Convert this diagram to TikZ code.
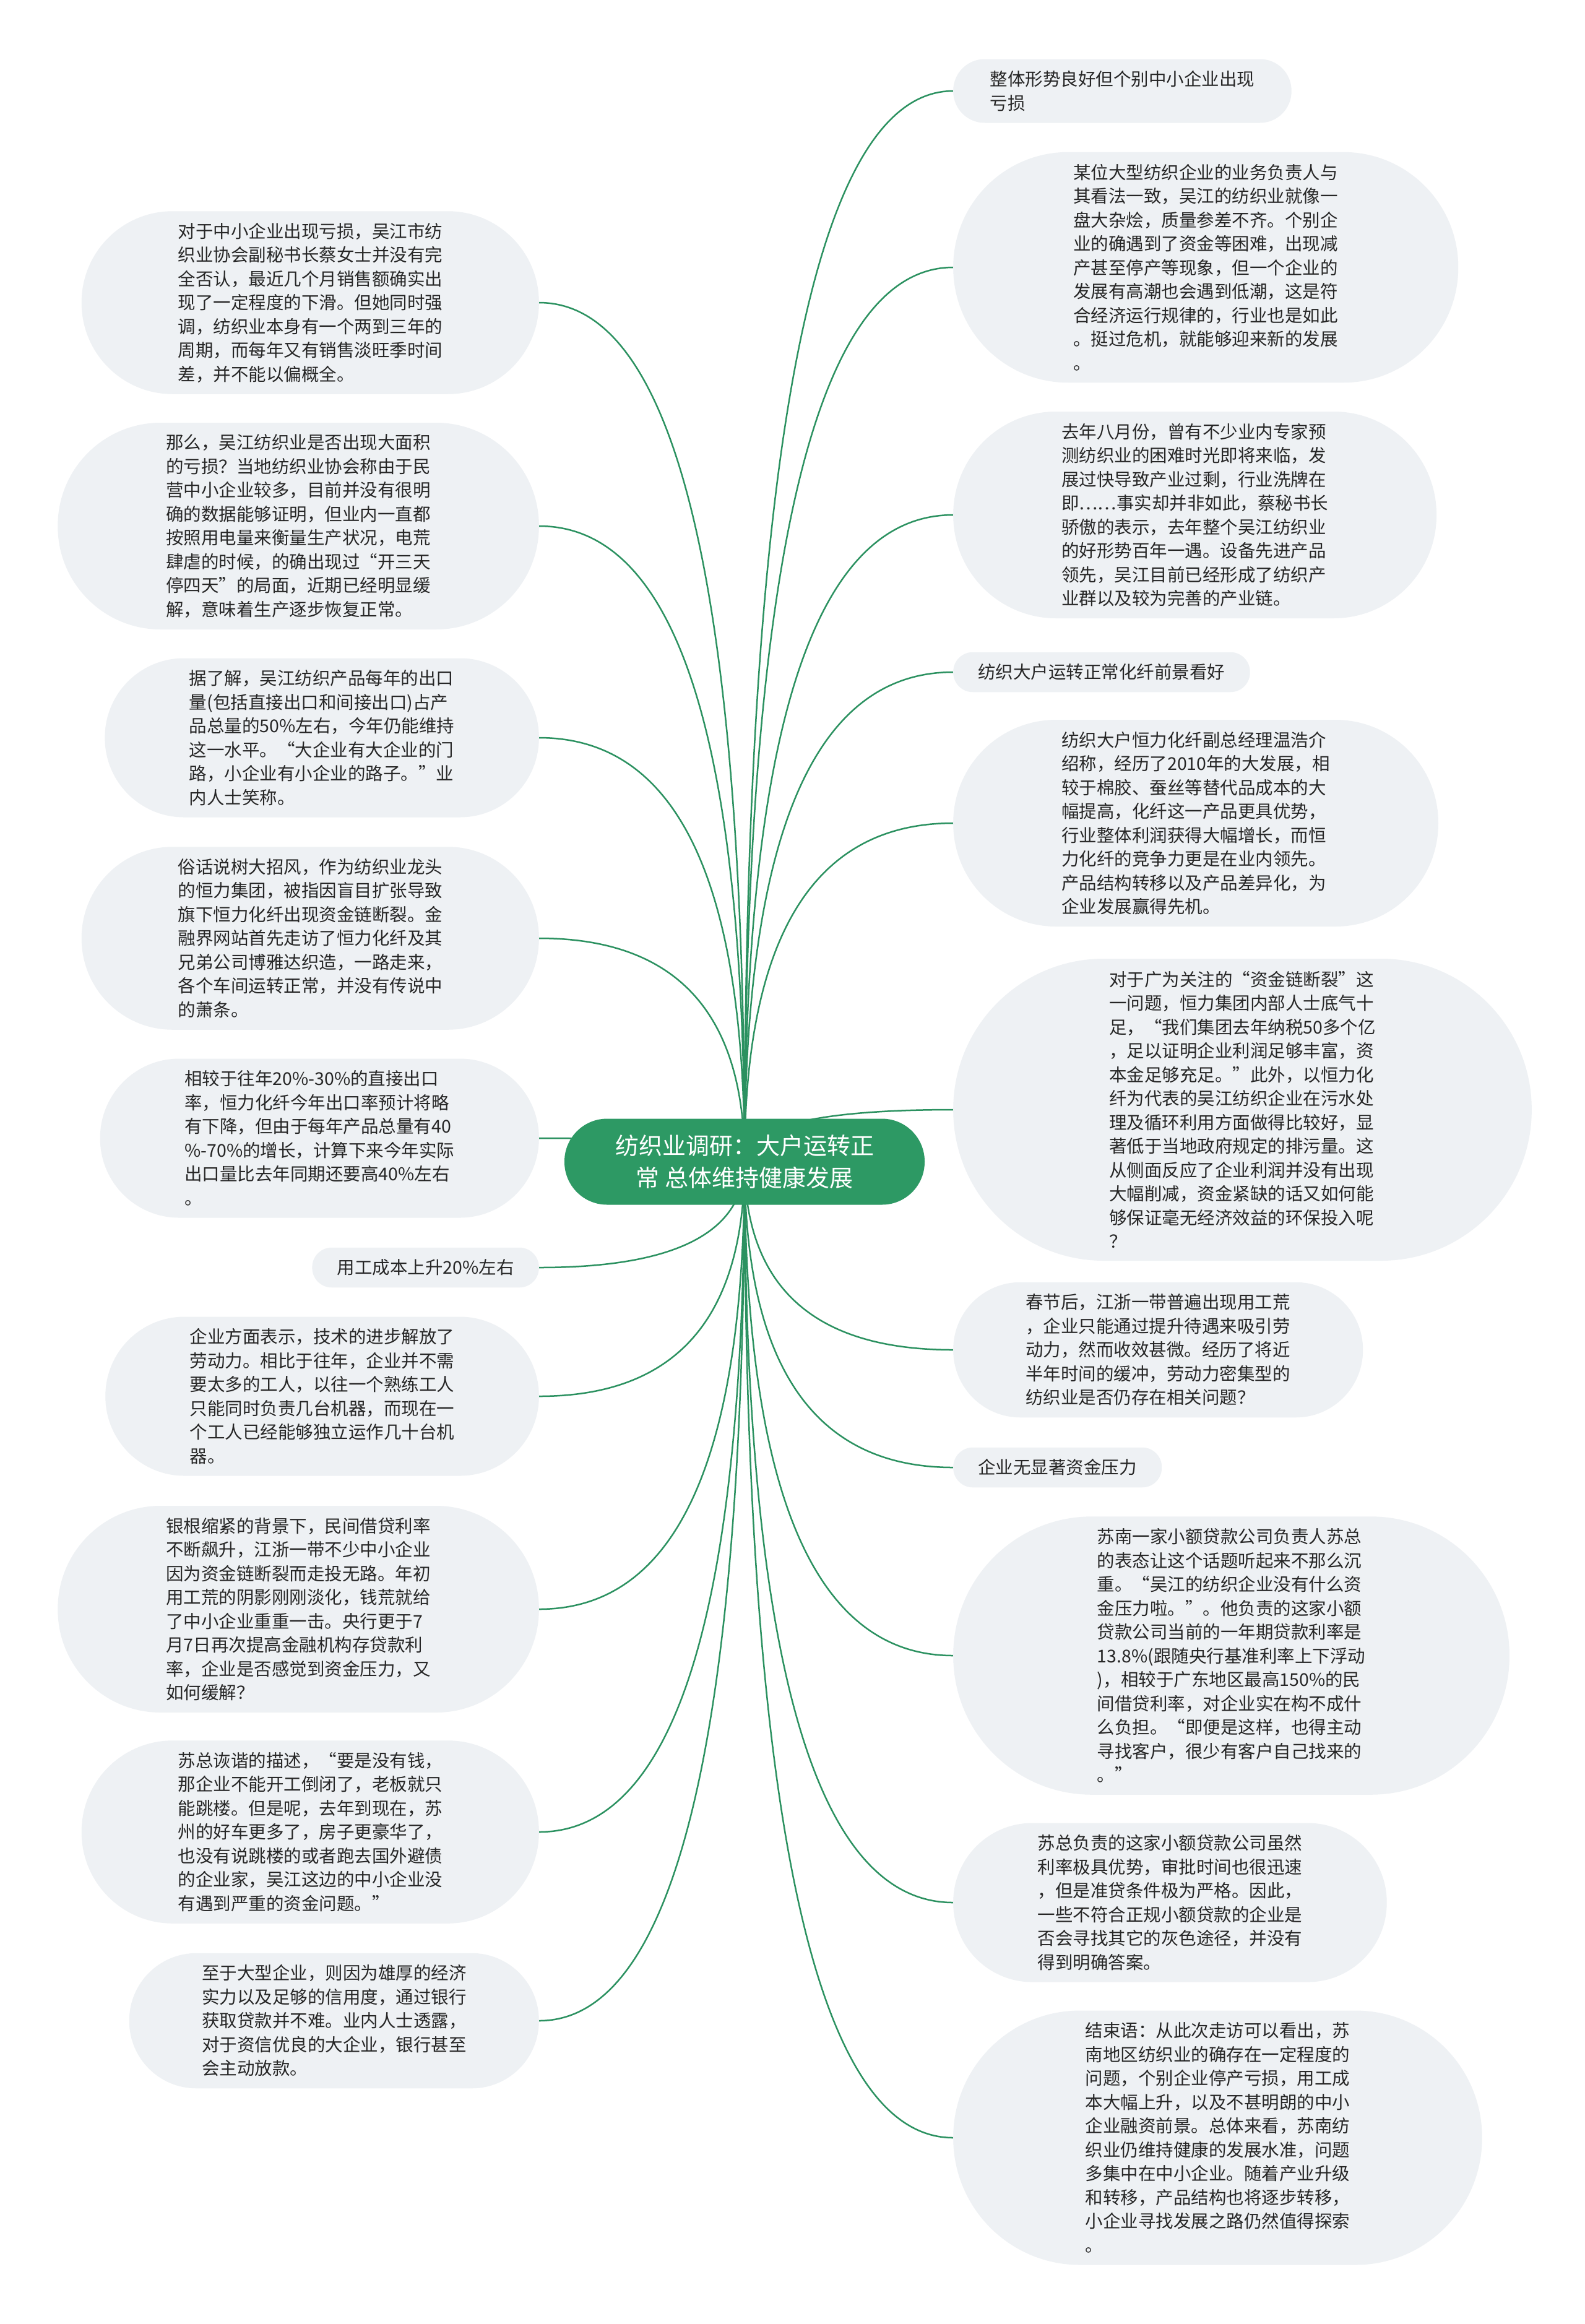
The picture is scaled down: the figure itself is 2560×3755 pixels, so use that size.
\documentclass[tikz,border=0pt]{standalone}
\usepackage{fontspec}
\setmainfont{Noto Sans CJK SC}
\usetikzlibrary{calc}
\pgfdeclarelayer{background}
\pgfsetlayers{background,main}
\definecolor{bubfill}{HTML}{EEF1F4}
\definecolor{txtc}{HTML}{262626}
\definecolor{rootfill}{HTML}{2D9964}
\definecolor{linkc}{HTML}{2B9160}
\newcommand\linkright[1]{%
  \coordinate (k#1) at (root.center |- #1.west);
  \draw[link] (root.center) .. controls ($(root.center)!0.6667!(k#1)$) and ($(#1.west)!0.6667!(k#1)$) .. (#1.west);}
\newcommand\linkleft[1]{%
  \coordinate (k#1) at (root.center |- #1.east);
  \draw[link] (root.center) .. controls ($(root.center)!0.6667!(k#1)$) and ($(#1.east)!0.6667!(k#1)$) .. (#1.east);}
\begin{document}
\begin{tikzpicture}[x=1pt,y=-1pt,
  bub/.style={rectangle, fill=bubfill, text=txtc, align=left,
    minimum height={38.5*#1+26}, inner ysep=0pt,
    inner xsep={(38.5*#1+26)/2+8}, rounded corners={(38.5*#1+26)/2-0.6},
    font=\fontsize{28.5}{38.5}\selectfont},
  lbub/.style={bub=#1, anchor=east},
  rbub/.style={bub=#1, anchor=west},
  rootbox/.style={rectangle, rounded corners=69pt, fill=rootfill, text=white,
    minimum height=139pt, inner ysep=0pt, inner xsep=82pt, align=center,
    font=\fontsize{38}{52}\selectfont},
  link/.style={draw=linkc, line width=2.5pt}]
\useasboundingbox (0,0) rectangle (2560,3755);

\node[rootbox] (root) at (1203,1877) {纺织业调研：大户运转正\\常 总体维持健康发展};

% left column
\node[lbub=7] (L1) at (871,489) {对于中小企业出现亏损，吴江市纺\\织业协会副秘书长蔡女士并没有完\\全否认，最近几个月销售额确实出\\现了一定程度的下滑。但她同时强\\调，纺织业本身有一个两到三年的\\周期，而每年又有销售淡旺季时间\\差，并不能以偏概全。};
\node[lbub=8] (L2) at (871,850) {那么，吴江纺织业是否出现大面积\\的亏损？当地纺织业协会称由于民\\营中小企业较多，目前并没有很明\\确的数据能够证明，但业内一直都\\按照用电量来衡量生产状况，电荒\\肆虐的时候，的确出现过“开三天\\停四天”的局面，近期已经明显缓\\解，意味着生产逐步恢复正常。};
\node[lbub=6] (L3) at (871,1192) {据了解，吴江纺织产品每年的出口\\量(包括直接出口和间接出口)占产\\品总量的50\%左右，今年仍能维持\\这一水平。“大企业有大企业的门\\路，小企业有小企业的路子。”业\\内人士笑称。};
\node[lbub=7] (L4) at (871,1516) {俗话说树大招风，作为纺织业龙头\\的恒力集团，被指因盲目扩张导致\\旗下恒力化纤出现资金链断裂。金\\融界网站首先走访了恒力化纤及其\\兄弟公司博雅达织造，一路走来，\\各个车间运转正常，并没有传说中\\的萧条。};
\node[lbub=6] (L5) at (871,1839) {相较于往年20\%-30\%的直接出口\\率，恒力化纤今年出口率预计将略\\有下降，但由于每年产品总量有40\\\%-70\%的增长，计算下来今年实际\\出口量比去年同期还要高40\%左右\\。};
\node[lbub=1] (L6) at (871,2048) {用工成本上升20\%左右};
\node[lbub=6] (L7) at (871,2256) {企业方面表示，技术的进步解放了\\劳动力。相比于往年，企业并不需\\要太多的工人，以往一个熟练工人\\只能同时负责几台机器，而现在一\\个工人已经能够独立运作几十台机\\器。};
\node[lbub=8] (L8) at (871,2600) {银根缩紧的背景下，民间借贷利率\\不断飙升，江浙一带不少中小企业\\因为资金链断裂而走投无路。年初\\用工荒的阴影刚刚淡化，钱荒就给\\了中小企业重重一击。央行更于7\\月7日再次提高金融机构存贷款利\\率，企业是否感觉到资金压力，又\\如何缓解？};
\node[lbub=7] (L9) at (871,2960) {苏总诙谐的描述，“要是没有钱，\\那企业不能开工倒闭了，老板就只\\能跳楼。但是呢，去年到现在，苏\\州的好车更多了，房子更豪华了，\\也没有说跳楼的或者跑去国外避债\\的企业家，吴江这边的中小企业没\\有遇到严重的资金问题。”};
\node[lbub=5] (L10) at (871,3265) {至于大型企业，则因为雄厚的经济\\实力以及足够的信用度，通过银行\\获取贷款并不难。业内人士透露，\\对于资信优良的大企业，银行甚至\\会主动放款。};

% right column
\node[rbub=2] (R1) at (1540,147) {整体形势良好但个别中小企业出现\\亏损};
\node[rbub=9] (R2) at (1540,432) {某位大型纺织企业的业务负责人与\\其看法一致，吴江的纺织业就像一\\盘大杂烩，质量参差不齐。个别企\\业的确遇到了资金等困难，出现减\\产甚至停产等现象，但一个企业的\\发展有高潮也会遇到低潮，这是符\\合经济运行规律的，行业也是如此\\。挺过危机，就能够迎来新的发展\\。};
\node[rbub=8] (R3) at (1540,832) {去年八月份，曾有不少业内专家预\\测纺织业的困难时光即将来临，发\\展过快导致产业过剩，行业洗牌在\\即……事实却并非如此，蔡秘书长\\骄傲的表示，去年整个吴江纺织业\\的好形势百年一遇。设备先进产品\\领先，吴江目前已经形成了纺织产\\业群以及较为完善的产业链。};
\node[rbub=1] (R4) at (1540,1086) {纺织大户运转正常化纤前景看好};
\node[rbub=8] (R5) at (1540,1330) {纺织大户恒力化纤副总经理温浩介\\绍称，经历了2010年的大发展，相\\较于棉胶、蚕丝等替代品成本的大\\幅提高，化纤这一产品更具优势，\\行业整体利润获得大幅增长，而恒\\力化纤的竞争力更是在业内领先。\\产品结构转移以及产品差异化，为\\企业发展赢得先机。};
\node[rbub=12] (R6) at (1540,1793) {对于广为关注的“资金链断裂”这\\一问题，恒力集团内部人士底气十\\足，“我们集团去年纳税50多个亿\\，足以证明企业利润足够丰富，资\\本金足够充足。”此外，以恒力化\\纤为代表的吴江纺织企业在污水处\\理及循环利用方面做得比较好，显\\著低于当地政府规定的排污量。这\\从侧面反应了企业利润并没有出现\\大幅削减，资金紧缺的话又如何能\\够保证毫无经济效益的环保投入呢\\？};
\node[rbub=5] (R7) at (1540,2181) {春节后，江浙一带普遍出现用工荒\\，企业只能通过提升待遇来吸引劳\\动力，然而收效甚微。经历了将近\\半年时间的缓冲，劳动力密集型的\\纺织业是否仍存在相关问题？};
\node[rbub=1] (R8) at (1540,2371) {企业无显著资金压力};
\node[rbub=11] (R9) at (1540,2675) {苏南一家小额贷款公司负责人苏总\\的表态让这个话题听起来不那么沉\\重。“吴江的纺织企业没有什么资\\金压力啦。”。他负责的这家小额\\贷款公司当前的一年期贷款利率是\\13.8\%(跟随央行基准利率上下浮动\\)，相较于广东地区最高150\%的民\\间借贷利率，对企业实在构不成什\\么负担。“即便是这样，也得主动\\寻找客户，很少有客户自己找来的\\。”};
\node[rbub=6] (R10) at (1540,3074) {苏总负责的这家小额贷款公司虽然\\利率极具优势，审批时间也很迅速\\，但是准贷条件极为严格。因此，\\一些不符合正规小额贷款的企业是\\否会寻找其它的灰色途径，并没有\\得到明确答案。};
\node[rbub=10] (R11) at (1540,3454) {结束语：从此次走访可以看出，苏\\南地区纺织业的确存在一定程度的\\问题，个别企业停产亏损，用工成\\本大幅上升，以及不甚明朗的中小\\企业融资前景。总体来看，苏南纺\\织业仍维持健康的发展水准，问题\\多集中在中小企业。随着产业升级\\和转移，产品结构也将逐步转移，\\小企业寻找发展之路仍然值得探索\\。};

\begin{pgfonlayer}{background}
\fill[white] (0,0) rectangle (2560,3755);
\foreach \n in {L1,L2,L3,L4,L5,L6,L7,L8,L9,L10} {\linkleft{\n}}
\foreach \n in {R1,R2,R3,R4,R5,R6,R7,R8,R9,R10,R11} {\linkright{\n}}
\end{pgfonlayer}
\end{tikzpicture}
\end{document}
